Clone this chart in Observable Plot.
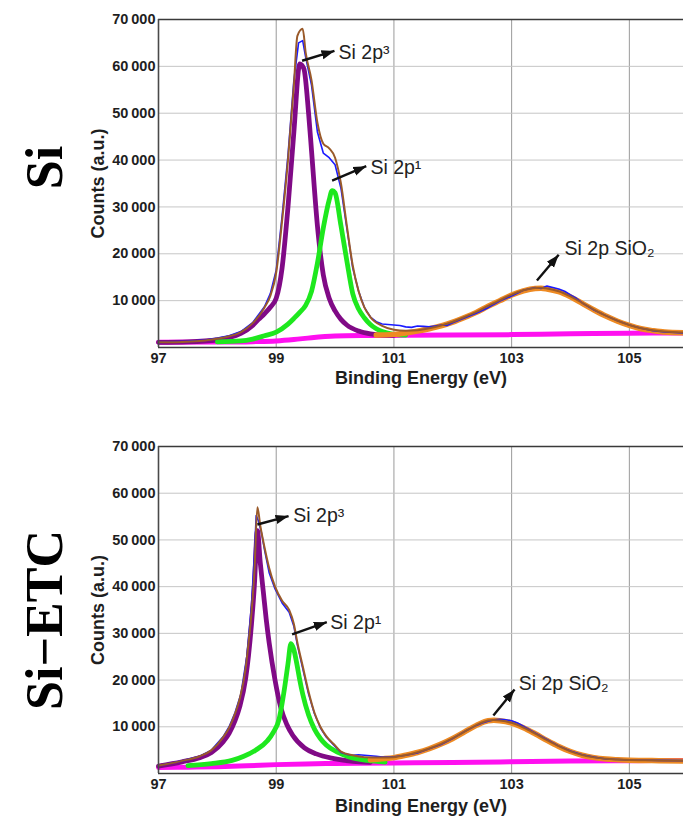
<!DOCTYPE html>
<html><head><meta charset="utf-8">
<script src="https://cdn.jsdelivr.net/npm/d3@7"></script>
<script src="https://cdn.jsdelivr.net/npm/@observablehq/plot@0.6"></script>
<style>
body{margin:0;background:#fff;}
#chart svg{display:block;}
</style></head><body><div id="chart"></div>
<script>
// ---------- axis / text ----------
const xTicks = [97, 99, 101, 103, 105];
const yTicks = [10000, 20000, 30000, 40000, 50000, 60000, 70000];
const xTitle = "Binding Energy (eV)";
const yTitle = "Counts (a.u.)";
const panelTitles = ["Si", "Si\u2212ETC"];

// ---------- Si panel (energy eV, counts) ----------
const siRaw = [[97.0,1100],[97.5,1300],[97.8,1600],[98.0,2000],[98.2,2500],[98.4,3400],[98.6,5300],[98.8,8700],[98.9,11500],[99.0,16500],[99.1,28000],[99.2,41000],[99.3,57000],[99.38,65000],[99.45,65500],[99.5,62000],[99.6,56000],[99.7,46000],[99.8,41500],[99.9,40500],[100.0,39000],[100.1,34000],[100.2,25500],[100.3,17000],[100.4,12000],[100.5,8500],[100.6,6500],[100.7,5500],[100.8,5000],[100.9,4900],[101.0,4800],[101.1,4700],[101.2,4400],[101.3,4300],[101.4,4600],[101.5,4500],[101.6,4400],[101.7,4600],[101.8,4800],[101.9,4700],[102.0,5300],[102.2,6300],[102.4,7300],[102.6,8500],[102.8,9900],[103.0,11000],[103.2,12200],[103.4,12800],[103.5,12600],[103.6,13100],[103.7,12800],[103.8,12500],[103.9,12000],[104.0,11200],[104.1,10500],[104.2,9500],[104.4,8000],[104.6,6800],[104.8,5700],[105.0,4800],[105.2,4100],[105.4,3600],[105.6,3300],[105.92,3100]];
const siEnvelope = [[97.0,1100],[97.5,1250],[97.8,1500],[98.0,1900],[98.2,2400],[98.4,3300],[98.6,5200],[98.8,8500],[98.9,11000],[99.0,16000],[99.1,27000],[99.2,40000],[99.3,56000],[99.36,66500],[99.45,68000],[99.5,63000],[99.6,57000],[99.7,48000],[99.8,43500],[99.9,42500],[100.0,40500],[100.1,35000],[100.2,26000],[100.3,17500],[100.4,12000],[100.5,8500],[100.6,6500],[100.8,4600],[101.0,3800],[101.2,3600],[101.4,3700],[101.6,4100],[101.8,4700],[102.0,5500],[102.2,6500],[102.4,7600],[102.6,8900],[102.8,10100],[103.0,11300],[103.2,12200],[103.4,12700],[103.5,12750],[103.6,12600],[103.8,12000],[104.0,10900],[104.2,9500],[104.4,8100],[104.6,6800],[104.8,5700],[105.0,4800],[105.2,4100],[105.4,3700],[105.6,3400],[105.92,3200]];
const siP3 = [[97.0,1100],[97.5,1200],[98.0,1600],[98.2,2100],[98.4,3000],[98.6,4700],[98.7,6000],[98.8,7200],[98.9,8600],[99.0,10500],[99.1,17000],[99.2,30000],[99.3,46000],[99.4,60500],[99.47,59500],[99.55,50000],[99.6,42000],[99.7,26000],[99.8,15500],[99.9,10500],[100.0,7800],[100.1,6000],[100.2,4800],[100.4,3500],[100.6,2900],[100.8,2650],[101.0,2600]];
const siP1 = [[98.0,1200],[98.4,1400],[98.6,1800],[98.8,2500],[99.0,3300],[99.2,5000],[99.3,6200],[99.4,7500],[99.5,9000],[99.6,12000],[99.7,18000],[99.8,25500],[99.9,31500],[99.95,33500],[100.0,33000],[100.1,26000],[100.2,18500],[100.3,11500],[100.4,8200],[100.5,6300],[100.6,4900],[100.7,4000],[100.8,3400],[101.0,2800],[101.2,2650]];
const siSiO2 = [[100.7,2650],[101.0,2800],[101.2,3100],[101.4,3500],[101.6,4000],[101.8,4600],[102.0,5400],[102.2,6400],[102.4,7500],[102.6,8800],[102.8,10000],[103.0,11200],[103.2,12100],[103.4,12600],[103.5,12650],[103.6,12500],[103.8,11900],[104.0,10800],[104.2,9400],[104.4,8000],[104.6,6700],[104.8,5600],[105.0,4700],[105.2,4000],[105.4,3600],[105.6,3300],[105.92,3150]];
const siBackground = [[97.0,1100],[98.0,1150],[98.6,1250],[99.0,1400],[99.3,1700],[99.6,2100],[100.0,2450],[100.5,2550],[101.0,2580],[102.0,2650],[103.0,2750],[104.0,2950],[105.0,3050],[105.92,3100]];
const siNotes = [
  {label: "Si 2p\u00B3", from: [99.44, 61200], to: [99.99, 63300], at: [100.06, 63000]},
  {label: "Si 2p\u00B9", from: [99.95, 35600], to: [100.53, 38700], at: [100.6, 38400]},
  {label: "Si 2p SiO\u2082", from: [103.43, 14300], to: [103.8, 19800], at: [103.9, 21100]}
];

// ---------- Si-ETC panel ----------
const etcRaw = [[97.0,1700],[97.4,2700],[97.7,3700],[97.9,5000],[98.1,7900],[98.2,10000],[98.3,13000],[98.4,17000],[98.5,25000],[98.58,36000],[98.63,47000],[98.66,55200],[98.7,54000],[98.75,51500],[98.8,48000],[98.88,43000],[98.98,39500],[99.1,36500],[99.22,34500],[99.3,31500],[99.36,27500],[99.45,22500],[99.55,17000],[99.65,12800],[99.75,9800],[99.85,7800],[100.0,5800],[100.1,4500],[100.2,4100],[100.3,3900],[100.4,4000],[100.5,3900],[100.6,3800],[100.7,3700],[100.8,3500],[101.0,3600],[101.2,3900],[101.4,4400],[101.6,5300],[101.8,6200],[102.0,7500],[102.2,9000],[102.4,10300],[102.5,10800],[102.6,11200],[102.7,11500],[102.8,11600],[102.9,11500],[103.0,11300],[103.1,10800],[103.2,10100],[103.4,8700],[103.6,7300],[103.8,5900],[104.0,4800],[104.2,4000],[104.4,3500],[104.6,3100],[104.8,3000],[105.0,2900],[105.5,2800],[105.92,2750]];
const etcEnvelope = [[97.0,1700],[97.4,2700],[97.7,3700],[97.9,5000],[98.1,7800],[98.2,9800],[98.3,12800],[98.38,16000],[98.48,22500],[98.53,28000],[98.58,34500],[98.63,43500],[98.68,57000],[98.73,53000],[98.8,48500],[98.88,44000],[98.98,40000],[99.1,37000],[99.22,35000],[99.3,32000],[99.36,28000],[99.45,23000],[99.55,17500],[99.65,13000],[99.75,10000],[99.85,8000],[100.0,6000],[100.1,4700],[100.3,3900],[100.5,3500],[100.8,3400],[101.0,3500],[101.2,3950],[101.4,4550],[101.6,5350],[101.8,6350],[102.0,7550],[102.2,8950],[102.4,10350],[102.6,11350],[102.7,11450],[102.8,11350],[103.0,10850],[103.2,9850],[103.4,8550],[103.6,7150],[103.8,5850],[104.0,4750],[104.2,3950],[104.4,3450],[104.6,3150],[104.8,3000],[105.0,2900],[105.5,2800],[105.92,2750]];
const etcP3 = [[97.0,1600],[97.4,2500],[97.7,3400],[97.9,4500],[98.1,6800],[98.2,8600],[98.3,11300],[98.38,14300],[98.48,20300],[98.53,25300],[98.58,32000],[98.63,40500],[98.68,52000],[98.73,45000],[98.78,39000],[98.83,33000],[98.88,28000],[98.98,20000],[99.08,14000],[99.18,10500],[99.28,8200],[99.48,5500],[99.68,4200],[99.98,3200],[100.3,2600],[100.6,2400]];
const etcP1 = [[97.5,1700],[97.9,2100],[98.25,2800],[98.45,3700],[98.65,5000],[98.85,7000],[98.95,8800],[99.05,11700],[99.1,15000],[99.15,19000],[99.2,23500],[99.25,27800],[99.3,26500],[99.35,23500],[99.4,20000],[99.45,17000],[99.55,12500],[99.65,9500],[99.75,7500],[99.85,6100],[100.05,4500],[100.25,3500],[100.55,2800],[100.85,2450]];
const etcSiO2 = [[100.6,2950],[100.8,3150],[101.0,3400],[101.2,3900],[101.4,4500],[101.6,5300],[101.8,6300],[102.0,7500],[102.2,8900],[102.4,10300],[102.6,11300],[102.7,11400],[102.8,11300],[103.0,10800],[103.2,9800],[103.4,8500],[103.6,7100],[103.8,5800],[104.0,4700],[104.2,3900],[104.4,3400],[104.6,3100],[104.8,2950],[105.0,2850],[105.5,2750],[105.92,2700]];
const etcBackground = [[97.0,1300],[97.5,1350],[98.0,1450],[98.5,1650],[99.0,1900],[99.5,2050],[100.0,2150],[101.0,2250],[102.0,2350],[103.0,2500],[104.0,2650],[105.0,2750],[105.92,2800]];
const etcNotes = [
  {label: "Si 2p\u00B3", from: [98.68, 53300], to: [99.21, 55100], at: [99.29, 55200]},
  {label: "Si 2p\u00B9", from: [99.27, 29800], to: [99.86, 32400], at: [99.92, 32300]},
  {label: "Si 2p SiO\u2082", from: [102.69, 12400], to: [103.05, 18000], at: [103.12, 19300]}
];

// ---------- drawing ----------
const sans = "'Liberation Sans', Arial, Helvetica, sans-serif";
const fmt = d => d3.format(",")(d).replace(/,/g, "\u2009");
const X = d => d[0], Y = d => d[1];

function panel(cfg) {
  const svg = Plot.plot({
    width: 683, height: cfg.height,
    marginTop: cfg.marginTop, marginBottom: cfg.marginBottom,
    marginLeft: 158, marginRight: 0,
    style: {background: "white", fontFamily: sans, overflow: "visible"},
    x: {domain: [97, 105.92]},
    y: {domain: [0, 70000]},
    marks: [
      Plot.gridX(xTicks.slice(1), {stroke: "#9a9a9a", strokeOpacity: 1}),
      Plot.gridY(yTicks.slice(0, -1), {stroke: "#c6c6c6", strokeOpacity: 1}),
      Plot.line(cfg.bg, {x: X, y: Y, stroke: "#ff10f0", strokeWidth: 5, curve: "monotone-x"}),
      Plot.line(cfg.p3, {x: X, y: Y, stroke: "#800a86", strokeWidth: 4.8, curve: "monotone-x", strokeLinejoin: "round"}),
      Plot.line(cfg.p1, {x: X, y: Y, stroke: "#1ee81e", strokeWidth: 4.8, curve: "monotone-x", strokeLinejoin: "round"}),
      Plot.line(cfg.sio2, {x: X, y: Y, stroke: "#ee8a22", strokeWidth: 5.5, curve: "monotone-x"}),
      Plot.line(cfg.raw, {x: X, y: Y, stroke: "#1a1aff", strokeWidth: 1.6}),
      Plot.line(cfg.env, {x: X, y: Y, stroke: "#9a5a2a", strokeWidth: 2, curve: "monotone-x"}),
      Plot.ruleY([70000], {stroke: "#3a3a3a", strokeWidth: 1.6}),
      Plot.ruleY([0], {stroke: "#3a3a3a", strokeWidth: 1.6}),
      Plot.ruleX([97], {stroke: "#4a4a4a", strokeWidth: 1.6}),
      Plot.axisY({ticks: yTicks, tickSize: 0, tickPadding: 3, tickFormat: fmt, label: null,
        fontSize: 14.5, fontWeight: "bold", fill: "#1e1e1e"}),
      Plot.axisX({ticks: xTicks, tickSize: 0, tickPadding: 5, tickFormat: d => String(d), label: null,
        fontSize: 14.5, fontWeight: "bold", fill: "#1e1e1e"}),
      Plot.text([xTitle], {text: d => d, frameAnchor: "bottom", dy: cfg.xTitleDy, lineAnchor: "middle",
        textAnchor: "middle", fontSize: 18, fontWeight: "bold", fill: "#1e1e1e"}),
      Plot.text([yTitle], {text: d => d, frameAnchor: "left", dx: -60, rotate: -90, lineAnchor: "middle",
        textAnchor: "middle", fontSize: 18, fontWeight: "bold", fill: "#1e1e1e"}),
      Plot.text([cfg.title], {text: d => d, frameAnchor: "left", dx: -113, dy: cfg.titleDy, rotate: -90,
        lineAnchor: "middle", textAnchor: "middle", fontFamily: "'Liberation Serif', 'Times New Roman', serif",
        fontSize: 52, fontWeight: "bold", fill: "#000"}),
      Plot.link(cfg.notes, {x1: d => d.from[0], y1: d => d.from[1], x2: d => d.to[0], y2: d => d.to[1],
        stroke: "#111", strokeWidth: 2.4, markerEnd: "arrow"}),
      Plot.text(cfg.notes, {x: d => d.at[0], y: d => d.at[1], text: "label", textAnchor: "start",
        lineAnchor: "middle", fontSize: 19.5, fill: "#222"})
    ]
  });
  svg.querySelectorAll("marker").forEach(m => {
    m.setAttribute("fill", "#111");
    m.setAttribute("stroke", "none");
    m.setAttribute("viewBox", "-10 -5 10 10");
    m.setAttribute("markerUnits", "userSpaceOnUse");
    m.setAttribute("markerWidth", "13");
    m.setAttribute("markerHeight", "13");
    m.setAttribute("refX", "0");
    m.setAttribute("refY", "0");
    const p = m.querySelector("path");
    if (p) p.setAttribute("d", "M-10,-3.6L0,0L-10,3.6Z");
  });
  return svg;
}

const root = document.getElementById("chart");
root.append(panel({title: panelTitles[0], raw: siRaw, env: siEnvelope, p3: siP3, p1: siP1, sio2: siSiO2,
  bg: siBackground, notes: siNotes, height: 400, marginTop: 19, marginBottom: 53, xTitleDy: 31, titleDy: -16}));
root.append(panel({title: panelTitles[1], raw: etcRaw, env: etcEnvelope, p3: etcP3, p1: etcP1, sio2: etcSiO2,
  bg: etcBackground, notes: etcNotes, height: 421, marginTop: 46, marginBottom: 48, xTitleDy: 33, titleDy: 10}));
</script></body></html>
